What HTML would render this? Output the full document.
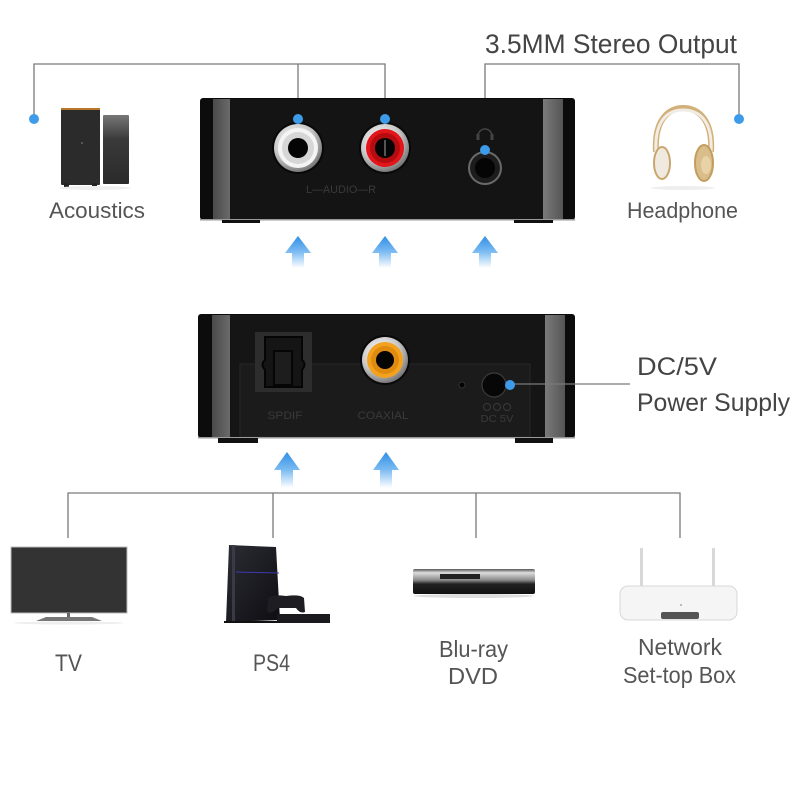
<!DOCTYPE html>
<html><head><meta charset="utf-8"><style>
html,body{margin:0;padding:0;background:#fff;}
svg{display:block;}
text{font-family:"Liberation Sans",sans-serif;}
</style></head><body>
<svg width="800" height="800" viewBox="0 0 800 800" xmlns="http://www.w3.org/2000/svg">
<defs>
<linearGradient id="arr" x1="0" y1="0" x2="0" y2="1">
<stop offset="0" stop-color="#2f8fe6"/><stop offset="0.5" stop-color="#7dbcf2"/><stop offset="1" stop-color="#ffffff"/>
</linearGradient>
<radialGradient id="silver" cx="0.4" cy="0.35" r="0.7">
<stop offset="0" stop-color="#ffffff"/><stop offset="0.6" stop-color="#c8c8c8"/><stop offset="1" stop-color="#6a6a6a"/>
</radialGradient>
<linearGradient id="strip" x1="0" y1="0" x2="1" y2="0">
<stop offset="0" stop-color="#4a4a4a"/><stop offset="1" stop-color="#6a6a6a"/>
</linearGradient>
<linearGradient id="strip2" x1="0" y1="0" x2="1" y2="0">
<stop offset="0" stop-color="#7a7a7a"/><stop offset="1" stop-color="#555"/>
</linearGradient>
<linearGradient id="dvd" x1="0" y1="0" x2="0" y2="1">
<stop offset="0" stop-color="#555"/><stop offset="0.15" stop-color="#ddd"/><stop offset="0.45" stop-color="#888"/><stop offset="0.6" stop-color="#222"/><stop offset="1" stop-color="#111"/>
</linearGradient>
<linearGradient id="spk" x1="0" y1="0" x2="0" y2="1">
<stop offset="0" stop-color="#777"/><stop offset="0.35" stop-color="#3a3a3a"/><stop offset="1" stop-color="#2a2a2a"/>
</linearGradient>
<linearGradient id="ps4" x1="0" y1="0" x2="1" y2="1">
<stop offset="0" stop-color="#2c2c34"/><stop offset="1" stop-color="#0d0d12"/>
</linearGradient>
</defs>

<!-- top connector lines -->
<g fill="none" stroke="#7a7a7a" stroke-width="1.3">
<polyline points="34,119 34,64 385,64 385,119"/>
<line x1="298" y1="64" x2="298" y2="119"/>
<polyline points="485,150 485,64 739,64 739,119"/>
</g>

<!-- speakers -->
<rect x="61" y="108" width="39" height="77" rx="1" fill="#2b2b2b"/>
<rect x="61" y="108" width="39" height="2" fill="#b8782a"/>
<rect x="64" y="183" width="5" height="4" fill="#222"/><rect x="92" y="183" width="5" height="4" fill="#222"/>
<circle cx="82" cy="143" r="1" fill="#666"/>
<rect x="103" y="115" width="26" height="69" rx="1" fill="url(#spk)"/>
<ellipse cx="95" cy="188" rx="36" ry="2" fill="#eee"/>

<!-- headphones -->
<path d="M656,152 C654,118 670,108 683,108 C697,108 713,118 711,152" fill="none" stroke="#d2b07a" stroke-width="6"/>
<path d="M656,152 C654,118 670,110 683,110 C697,110 713,118 711,152" fill="none" stroke="#f1ece4" stroke-width="3"/>
<ellipse cx="662" cy="163" rx="8" ry="16" fill="#efe9df" stroke="#c9a66e" stroke-width="2"/>
<ellipse cx="704" cy="163" rx="9" ry="18" fill="#d9bd8a" stroke="#c49d5d" stroke-width="2"/>
<ellipse cx="706" cy="165" rx="5" ry="9" fill="#e8d2a6"/>
<ellipse cx="683" cy="188" rx="32" ry="2" fill="#eee"/>

<!-- top box -->
<rect x="200" y="98" width="375" height="122" rx="3" fill="#0c0c0c"/>
<rect x="213" y="99" width="17" height="121" fill="url(#strip)"/>
<rect x="230" y="99" width="313" height="121" fill="#141414"/>
<rect x="543" y="99" width="20" height="121" fill="url(#strip2)"/>
<rect x="200" y="219" width="375" height="1.5" fill="#9a9a9a"/>
<rect x="222" y="220" width="38" height="3" fill="#111"/>
<rect x="514" y="220" width="39" height="3" fill="#111"/>
<!-- white rca -->
<circle cx="298" cy="148" r="26" fill="#080808"/>
<circle cx="298" cy="148" r="24" fill="url(#silver)"/>
<circle cx="298" cy="148" r="20" fill="#f4f4f4"/>
<circle cx="298" cy="148" r="16" fill="#d6d6d6"/>
<circle cx="298" cy="148" r="10" fill="#050505"/>
<!-- red rca -->
<circle cx="385" cy="148" r="26" fill="#080808"/>
<circle cx="385" cy="148" r="24" fill="url(#silver)"/>
<circle cx="385" cy="148" r="19" fill="#e3141a"/>
<circle cx="385" cy="148" r="15" fill="#b50c10"/>
<circle cx="385" cy="148" r="10" fill="#050505"/>
<rect x="384" y="140" width="2" height="16" fill="#555"/>
<!-- headphone jack -->
<path d="M478,136 a7,7 0 0 1 14,0" fill="none" stroke="#444" stroke-width="1.5"/>
<rect x="476.5" y="134" width="3" height="6" fill="#444"/><rect x="490.5" y="134" width="3" height="6" fill="#444"/>
<circle cx="485" cy="168" r="17" fill="#6a6a6a"/>
<circle cx="485" cy="168" r="15" fill="#1c1c1c"/>
<circle cx="485" cy="168" r="10" fill="#050505"/>
<text x="341" y="193" font-size="11" fill="#3a3a3a" text-anchor="middle" textLength="70" lengthAdjust="spacingAndGlyphs">L—AUDIO—R</text>

<!-- dots top -->
<g fill="#3d9be9">
<circle cx="34" cy="119" r="5"/><circle cx="298" cy="119" r="5"/><circle cx="385" cy="119" r="5"/>
<circle cx="485" cy="150" r="5"/><circle cx="739" cy="119" r="5"/>
</g>

<!-- top arrows -->
<g fill="url(#arr)">
<path d="M285,253 L298,236 L311,253 L304,253 L304,268 L292,268 L292,253 Z"/>
<path d="M372,253 L385,236 L398,253 L391,253 L391,268 L379,268 L379,253 Z"/>
<path d="M472,253 L485,236 L498,253 L491,253 L491,268 L479,268 L479,253 Z"/>
</g>

<!-- labels top -->
<text x="485" y="53" font-size="27" fill="#444" textLength="252" lengthAdjust="spacingAndGlyphs">3.5MM Stereo Output</text>
<text x="49" y="218" font-size="22" fill="#555" textLength="96" lengthAdjust="spacingAndGlyphs">Acoustics</text>
<text x="627" y="218" font-size="22" fill="#555" textLength="111" lengthAdjust="spacingAndGlyphs">Headphone</text>

<!-- bottom box -->
<rect x="198" y="314" width="377" height="124" rx="3" fill="#0c0c0c"/>
<rect x="212" y="315" width="18" height="123" fill="url(#strip)"/>
<rect x="230" y="315" width="315" height="123" fill="#151515"/>
<rect x="545" y="315" width="20" height="123" fill="url(#strip2)"/>
<rect x="240" y="364" width="290" height="73" fill="#1b1b1b" stroke="#262626" stroke-width="1"/>
<rect x="198" y="437" width="377" height="1.5" fill="#9a9a9a"/>
<rect x="218" y="438" width="40" height="5" fill="#111"/>
<rect x="515" y="438" width="38" height="5" fill="#111"/>
<!-- spdif -->
<rect x="255" y="332" width="57" height="60" fill="#2d2d2d"/>
<path d="M265,337 H302 V360 Q307,364 302,370 V387 H265 V370 Q260,364 265,360 Z" fill="#151515" stroke="#050505" stroke-width="2"/>
<rect x="274" y="351" width="18" height="34" fill="#1d1d1d" stroke="#050505" stroke-width="2"/>
<!-- coax -->
<circle cx="385" cy="360" r="25" fill="#080808"/>
<circle cx="385" cy="360" r="23" fill="url(#silver)"/>
<circle cx="385" cy="360" r="18" fill="#f3a21e"/>
<circle cx="385" cy="360" r="14" fill="#e08a10"/>
<circle cx="385" cy="360" r="9" fill="#050505"/>
<!-- hole and dc -->
<circle cx="462" cy="385" r="3" fill="#000" stroke="#333" stroke-width="1"/>
<circle cx="494" cy="385" r="12" fill="#070707" stroke="#3a3a3a" stroke-width="1.2"/>
<text x="285" y="419" font-size="11" fill="#3a3a3a" text-anchor="middle" textLength="35" lengthAdjust="spacingAndGlyphs">SPDIF</text>
<text x="383" y="419" font-size="11" fill="#3a3a3a" text-anchor="middle" textLength="51" lengthAdjust="spacingAndGlyphs">COAXIAL</text>
<g fill="none" stroke="#3a3a3a" stroke-width="1">
<circle cx="487" cy="407" r="3.5"/><circle cx="497" cy="407" r="3.5"/><circle cx="507" cy="407" r="3.5"/>
</g>
<text x="497" y="422" font-size="10" fill="#3a3a3a" text-anchor="middle" textLength="33" lengthAdjust="spacingAndGlyphs">DC 5V</text>
<line x1="510" y1="384" x2="630" y2="384" stroke="#7a7a7a" stroke-width="1.2"/>
<circle cx="510" cy="385" r="5" fill="#3d9be9"/>
<text x="637" y="375" font-size="25" fill="#444" textLength="80" lengthAdjust="spacingAndGlyphs">DC/5V</text>
<text x="637" y="411" font-size="25" fill="#444" textLength="153" lengthAdjust="spacingAndGlyphs">Power Supply</text>

<!-- bottom arrows -->
<g fill="url(#arr)">
<path d="M274,470 L287,452 L300,470 L293,470 L293,488 L281,488 L281,470 Z"/>
<path d="M373,470 L386,452 L399,470 L392,470 L392,488 L380,488 L380,470 Z"/>
</g>

<!-- bottom lines -->
<g fill="none" stroke="#7a7a7a" stroke-width="1.3">
<polyline points="68,538 68,493 680,493 680,538"/>
<line x1="273" y1="493" x2="273" y2="538"/>
<line x1="476" y1="493" x2="476" y2="538"/>
</g>

<!-- TV -->
<rect x="11" y="547" width="116" height="66" fill="#333" stroke="#bbb" stroke-width="1"/>
<rect x="67" y="613" width="3" height="5" fill="#666"/>
<path d="M36,621 L46,617 L92,617 L102,621 Z" fill="#777"/>
<ellipse cx="69" cy="623" rx="55" ry="1.5" fill="#eee"/>

<!-- PS4 -->
<path d="M229,545 L276,547 L280,620 L226,622 Z" fill="url(#ps4)"/>
<rect x="232" y="545" width="3" height="76" fill="#3a3a44"/>
<line x1="236" y1="572" x2="279" y2="573" stroke="#3b3bb0" stroke-width="1"/>
<path d="M268,598 Q272,594 286,596 Q300,594 304,598 L305,612 Q300,614 296,608 L278,608 Q272,614 267,612 Z" fill="#1d1d22"/>
<rect x="277" y="614" width="53" height="9" fill="#1a1a1e"/>
<rect x="224" y="621" width="56" height="2" fill="#111"/>

<!-- DVD -->
<rect x="413" y="569" width="122" height="25" rx="2" fill="url(#dvd)"/>
<rect x="440" y="574" width="40" height="5" fill="#222"/>
<ellipse cx="474" cy="596" rx="60" ry="2" fill="#ddd"/>

<!-- Router -->
<rect x="640" y="548" width="3" height="40" fill="#d8d8d8"/>
<rect x="712" y="548" width="3" height="40" fill="#d8d8d8"/>
<rect x="620" y="586" width="117" height="34" rx="8" fill="#f5f5f5" stroke="#d8d8d8" stroke-width="1"/>
<rect x="661" y="612" width="38" height="7" rx="2" fill="#555"/>
<circle cx="681" cy="605" r="1" fill="#aaa"/>

<!-- bottom labels -->
<text x="55" y="671" font-size="24" fill="#555" textLength="27" lengthAdjust="spacingAndGlyphs">TV</text>
<text x="253" y="671" font-size="24" fill="#555" textLength="37" lengthAdjust="spacingAndGlyphs">PS4</text>
<text x="439" y="657" font-size="23" fill="#555" textLength="69" lengthAdjust="spacingAndGlyphs">Blu-ray</text>
<text x="448" y="684" font-size="23" fill="#555" textLength="50" lengthAdjust="spacingAndGlyphs">DVD</text>
<text x="638" y="655" font-size="23" fill="#555" textLength="84" lengthAdjust="spacingAndGlyphs">Network</text>
<text x="623" y="683" font-size="23" fill="#555" textLength="113" lengthAdjust="spacingAndGlyphs">Set-top Box</text>
</svg>
</body></html>
